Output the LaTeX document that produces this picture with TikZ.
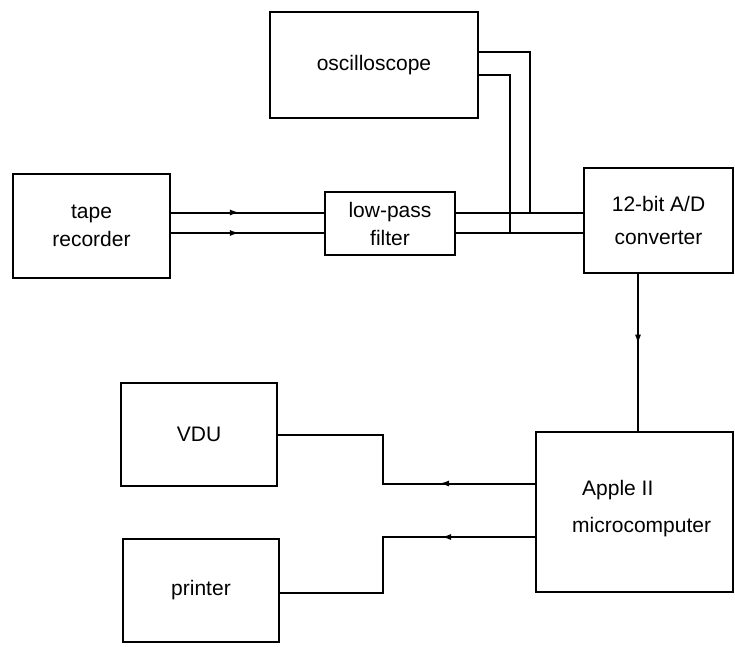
\documentclass[tikz,border=0pt]{standalone}
\usepackage{fontspec}
\setmainfont{Liberation Sans}
\usetikzlibrary{arrows.meta,decorations.markings,calc}
\tikzset{
  blk/.style={draw, line width=2pt, inner sep=0pt, align=center,
    font=\fontsize{21}{28}\selectfont},
  lbl/.style={inner sep=0pt, align=left, font=\fontsize{21}{28}\selectfont},
  wire/.style={line width=2pt},
  midarrow/.style={postaction={decorate}, decoration={markings,
      mark=at position #1 with {\arrow{Latex[length=10pt,width=6pt]}}}},
}
\begin{document}
\begin{tikzpicture}[x=1pt,y=-1pt]
\useasboundingbox (0,0) rectangle (735,646);
% blocks
\node[blk, minimum width=208pt, minimum height=106pt] (osc) at (374,65) {oscilloscope};
\node[blk, minimum width=157pt, minimum height=104pt] (tape) at (91.5,226) {tape\\recorder};
\node[blk, minimum width=130pt, minimum height=63pt] (filt) at (390,223.5) {low-pass\\filter};
\node[blk, minimum width=149pt, minimum height=105pt] (ad) at (658.5,220.5) {12-bit A/D\\[5pt]converter};
\node[blk, minimum width=156pt, minimum height=103pt] (vdu) at (199,434.5) {VDU};
\node[blk, minimum width=156pt, minimum height=103pt] (prn) at (201,590.5) {printer};
\node[blk, minimum width=197pt, minimum height=160pt] (apple) at (634.5,512) {};
\node[lbl, anchor=west] (appletext) at (572,509) {\hspace*{10pt}Apple II\\[9pt]microcomputer};
% signal lines tape -> filter -> A/D
\coordinate (tu) at ([yshift=13.5pt]tape.east);
\coordinate (tl) at ([yshift=-7pt]tape.east);
\draw[wire, midarrow=0.45] (tu) -- (tu -| filt.west);
\draw[wire, midarrow=0.45] (tl) -- (tl -| filt.west);
\coordinate (fu) at (filt.east |- tu);
\coordinate (fl) at (filt.east |- tl);
\draw[wire] (fu) -- (fu -| ad.west);
\draw[wire] (fl) -- (fl -| ad.west);
% oscilloscope taps
\coordinate (ou) at ([yshift=13pt]osc.east);
\coordinate (ol) at ([yshift=-10pt]osc.east);
\coordinate (ju) at (530,212.5);
\coordinate (jl) at (510,233);
\draw[wire] (ou) -| (ju);
\draw[wire] (ol) -| (jl);
% A/D -> Apple
\coordinate (adout) at ([xshift=-20.5pt]ad.south);
\draw[wire, midarrow=0.45] (adout) -- (adout |- apple.north);
% Apple -> VDU, printer
\coordinate (av) at ([yshift=28.5pt]apple.west);
\coordinate (ap) at ([yshift=-25pt]apple.west);
\coordinate (vin) at (vdu.east);
\coordinate (pin) at ([yshift=-2.5pt]prn.east);
\draw[wire, midarrow=96pt] (av) -| ($(vin)+(104.5,0)$) -- (vin);
\draw[wire, midarrow=94pt] (ap) -| ($(pin)+(102.5,0)$) -- (pin);
\end{tikzpicture}
\end{document}
